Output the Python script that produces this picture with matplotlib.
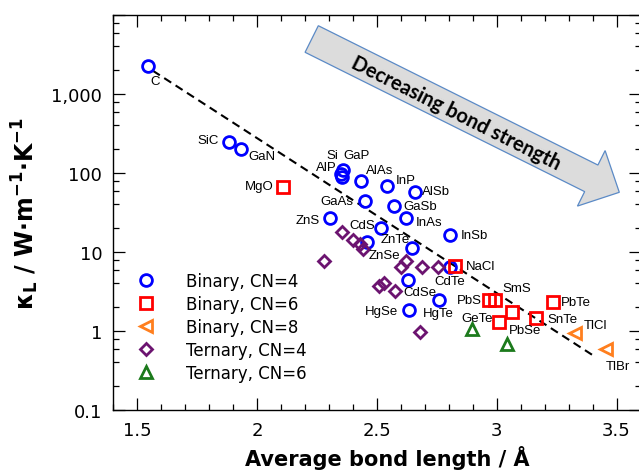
import numpy as np
import matplotlib
matplotlib.use('Agg')
from matplotlib import pyplot as plt
from matplotlib.patches import Polygon
from matplotlib.ticker import LogLocator, MultipleLocator, FuncFormatter, NullFormatter

# ---- data ----
b4_names = ['C', 'SiC', 'GaN', 'Si', 'AlP', 'GaP', 'AlAs', 'InP', 'AlSb', 'GaAs', 'GaSb',
            'InAs', 'ZnS', 'CdS', 'InSb', 'ZnSe', 'ZnTe', 'CdTe', 'CdSe', 'HgTe', 'HgSe']
b4_x = [1.544, 1.882, 1.931, 2.357, 2.349, 2.353, 2.433, 2.543, 2.659, 2.450, 2.573,
        2.620, 2.304, 2.516, 2.806, 2.457, 2.647, 2.806, 2.631, 2.761, 2.635]
b4_y = [2280, 249, 201, 110, 97, 88, 78.5, 68, 57, 43.9, 37.9,
        26.7, 26.7, 20, 16.4, 13.3, 11.1, 6.4, 4.4, 2.5, 1.86]

b6_names = ['MgO', 'NaCl', 'PbS', 'SmS', 'GeTe', 'PbSe', 'SnTe', 'PbTe']
b6_x = [2.109, 2.827, 2.966, 2.994, 3.008, 3.063, 3.164, 3.233]
b6_y = [67, 6.6, 2.5, 2.5, 1.29, 1.73, 1.45, 2.31]

b8_names = ['TlCl', 'TlBr']
b8_x = [3.325, 3.456]
b8_y = [0.945, 0.59]

t4_x = [2.353, 2.401, 2.429, 2.441, 2.279, 2.622, 2.599, 2.687, 2.753, 2.510, 2.530, 2.576, 2.680]
t4_y = [17.7, 14.3, 12.6, 10.9, 7.8, 7.8, 6.5, 6.4, 6.4, 3.75, 4.1, 3.24, 0.98]

t6_x = [2.896, 3.043]
t6_y = [1.06, 0.68]

trend_x = [1.565, 3.398]
trend_y = [1970, 0.50]

# label offsets in pixels (dx right, dy up)
label_offsets = {
    'C': (7, -15), 'SiC': (-21, 2), 'GaN': (21, -7), 'MgO': (-24, 1),
    'Si': (-10, 15), 'GaP': (15, 22), 'AlP': (-14, 7), 'AlAs': (19, 11), 'InP': (19, 6),
    'AlSb': (21, 1), 'GaAs': (-28, 0), 'GaSb': (26, 0), 'InAs': (23, -4),
    'ZnS': (-22, -2), 'CdS': (-18, 3), 'InSb': (24, 0), 'ZnTe': (-17, 9),
    'ZnSe': (18, -13), 'NaCl': (25, 0), 'CdTe': (0, -14), 'CdSe': (12, -12),
    'HgTe': (-1, -13), 'HgSe': (-28, -1), 'PbS': (-19, 0), 'SmS': (22, 12),
    'GeTe': (-22, 4), 'PbSe': (13, -18), 'SnTe': (26, -1), 'PbTe': (23, 0),
    'TlCl': (21, 8), 'TlBr': (12, -17),
}

W, H = 639, 477
fig = plt.figure(figsize=(W / 100, H / 100), dpi=100)
ax = fig.add_axes([113.3 / W, (H - 411) / H, (640.5 - 113.3) / W, 395 / H])

blue = '#0000ff'
red = '#ff0000'
orange = '#ff7f1e'
purple = '#6c1470'
green = '#1c7a1c'

ax.plot(trend_x, trend_y, '--', color='black', lw=1.5, dashes=(4, 2.5), zorder=2)

ax.plot(b4_x, b4_y, 'o', ms=8.5, mfc='none', mec=blue, mew=2, label='Binary, CN=4', zorder=3)
ax.plot(b6_x, b6_y, 's', ms=8, mfc='none', mec=red, mew=2, label='Binary, CN=6', zorder=3)
ax.plot(b8_x, b8_y, '<', ms=9, mfc='none', mec=orange, mew=2, label='Binary, CN=8', zorder=3)
ax.plot(t4_x, t4_y, 'D', ms=6.5, mfc='none', mec=purple, mew=2, label='Ternary, CN=4', zorder=3)
ax.plot(t6_x, t6_y, '^', ms=9, mfc='none', mec=green, mew=2, label='Ternary, CN=6', zorder=3)

for names, xs, ys in [(b4_names, b4_x, b4_y), (b6_names, b6_x, b6_y), (b8_names, b8_x, b8_y)]:
    for n, x, y in zip(names, xs, ys):
        dx, dy = label_offsets[n]
        ax.annotate(n, (x, y), xytext=(dx, dy), textcoords='offset pixels',
                    ha='center', va='center', fontsize=9.5, family='Liberation Sans', zorder=4)

ax.set_yscale('log')
ax.set_xlim(1.4, 3.6)
ax.set_ylim(0.1, 10000)

ax.xaxis.set_major_locator(MultipleLocator(0.5))
ax.xaxis.set_minor_locator(MultipleLocator(0.1))
ax.xaxis.set_major_formatter(FuncFormatter(lambda v, p: ('%g' % v)))
ax.yaxis.set_major_locator(LogLocator(base=10, numticks=10))
ax.yaxis.set_minor_locator(LogLocator(base=10, subs=(2, 4, 6, 8), numticks=10))
ax.yaxis.set_minor_formatter(NullFormatter())


def yfmt(v, p):
    if v >= 10000 or v < 0.09:
        return ''
    if v < 1:
        return '%g' % v
    return '{:,}'.format(int(round(v)))


ax.yaxis.set_major_formatter(FuncFormatter(yfmt))
ax.tick_params(which='both', direction='in', top=True, right=True, width=0.9, labelsize=13, pad=8)
ax.tick_params(which='major', length=8.5)
ax.tick_params(which='minor', length=4.5)
for s in ax.spines.values():
    s.set_linewidth(1.0)

plt.rcParams['mathtext.fontset'] = 'dejavusans'
plt.rcParams['mathtext.default'] = 'bf'
ax.set_xlabel('Average bond length / Å', fontsize=15, fontweight='bold')
ax.set_ylabel(r'$\kappa_\mathregular{L}$ / W$\cdot$m$^{-1}$$\cdot$K$^{-1}$', fontsize=17, fontweight='bold')
ax.xaxis.set_label_coords((387 - 113.3) / 527.2, -35 / 395)
ax.yaxis.set_label_coords(-72 / 527.2, 0.5)

ax.legend(loc='upper left', bbox_to_anchor=(0.047, 0.35), frameon=False, fontsize=12,
          handlelength=1.0, handletextpad=1.9, labelspacing=0.3, borderaxespad=0, borderpad=0)

# big grey arrow (pixel geometry -> figure fraction)
tail = np.array([311.7, 40.0])
tip = np.array([619.3, 193.3])
d = tip - tail
L = np.hypot(*d)
u = d / L
nrm = np.array([u[1], -u[0]])
shaft_w, head_w, head_l = 29.7, 62.0, 31.3
base = tip - u * head_l
pts = [tail + nrm * shaft_w / 2, base + nrm * shaft_w / 2, base + nrm * head_w / 2, tip,
       base - nrm * head_w / 2, base - nrm * shaft_w / 2, tail - nrm * shaft_w / 2]
pts = [(p[0] / W, 1 - p[1] / H) for p in pts]
fig.patches.append(Polygon(pts, closed=True, transform=fig.transFigure, facecolor='#dcdcdc',
                           edgecolor='#5b8ac6', lw=0.9, zorder=1))
ang = np.degrees(np.arctan2(d[1], d[0]))
fig.text(456 / W, 1 - 114 / H, 'Decreasing bond strength', rotation=-ang, rotation_mode='anchor',
         ha='center', va='center', fontsize=14.5, fontweight='bold', family='Lato')

fig.savefig('out.png', dpi=100)
